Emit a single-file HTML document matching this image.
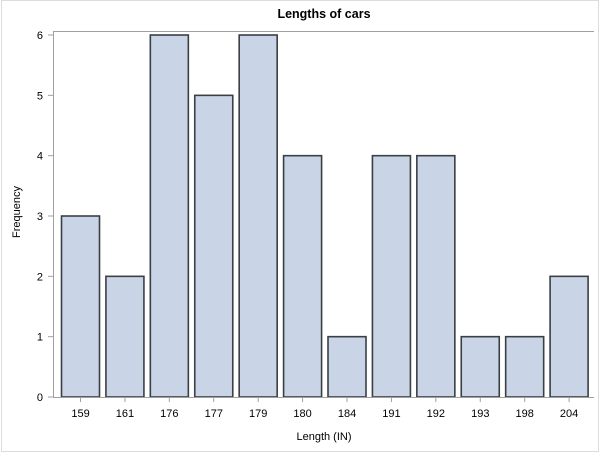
<!DOCTYPE html>
<html><head><meta charset="utf-8"><style>
html,body{margin:0;padding:0;background:#fff;}
svg{display:block;font-family:"Liberation Sans",Arial,sans-serif;}
</style></head><body>
<svg id="chart" width="600" height="453" viewBox="0 0 600 453" xmlns="http://www.w3.org/2000/svg">
<rect x="1.5" y="0.5" width="597" height="451" fill="#fff" stroke="#dcdcdc"/>
<text x="324" y="18" text-anchor="middle" font-size="12.5" font-weight="bold" fill="#000">Lengths of cars</text>
<line x1="53" y1="31.5" x2="594" y2="31.5" stroke="#a0a0a0"/>
<g id="bars"></g>
<line x1="53.5" y1="31" x2="53.5" y2="397" stroke="#a0a0a0"/>
<line x1="53" y1="397.5" x2="594" y2="397.5" stroke="#a0a0a0"/>
<g id="yticks"></g>
<g id="xticks"></g>
<text transform="translate(20,212) rotate(-90)" text-anchor="middle" font-size="11" fill="#000">Frequency</text>
<text x="324" y="440" text-anchor="middle" font-size="11" fill="#000">Length (IN)</text>
</svg>
<script>
const categories = ["159","161","176","177","179","180","184","191","192","193","198","204"];
const frequencies = [3,2,6,5,6,4,1,4,4,1,1,2];
const yTickLabels = [0,1,2,3,4,5,6];
const NS="http://www.w3.org/2000/svg";
const x0=58.3, x1=591.3, yBase=397, yPer=60.33;
const band=(x1-x0)/categories.length, bw=38;
function xCenter(i){return x0+band*(i+0.5);}
function yPos(v){return yBase-v*yPer;}
const bars=document.getElementById('bars');
frequencies.forEach((v,i)=>{
  const r=document.createElementNS(NS,'rect');
  
  
  r.setAttribute('x',xCenter(i)-bw/2);
  r.setAttribute('y',yPos(v));
  r.setAttribute('width',bw);
  r.setAttribute('height',yBase-yPos(v));
  r.setAttribute('fill','#c9d5e6');
  r.setAttribute('stroke','#3a3f44');
  r.setAttribute('stroke-width','1.6');
  bars.appendChild(r);
});
const yt=document.getElementById('yticks');
yTickLabels.forEach(v=>{
  const y=yPos(v);
  const l=document.createElementNS(NS,'line');
  
  
  l.setAttribute('x1',48);l.setAttribute('x2',53);l.setAttribute('y1',y);l.setAttribute('y2',y);
  l.setAttribute('stroke','#a0a0a0');
  yt.appendChild(l);
  const t=document.createElementNS(NS,'text');
  
  
  t.setAttribute('x',43);t.setAttribute('y',y+4);
  t.setAttribute('text-anchor','end');t.setAttribute('font-size','11');
  t.textContent=v;
  yt.appendChild(t);
});
const xt=document.getElementById('xticks');
categories.forEach((c,i)=>{
  const x=xCenter(i);
  const l=document.createElementNS(NS,'line');
  
  
  l.setAttribute('x1',x);l.setAttribute('x2',x);l.setAttribute('y1',397);l.setAttribute('y2',402);
  l.setAttribute('stroke','#a0a0a0');
  xt.appendChild(l);
  const t=document.createElementNS(NS,'text');
  
  
  t.setAttribute('x',x);t.setAttribute('y',417);
  t.setAttribute('text-anchor','middle');t.setAttribute('font-size','11');
  t.textContent=c;
  xt.appendChild(t);
});
</script>
</body></html>
